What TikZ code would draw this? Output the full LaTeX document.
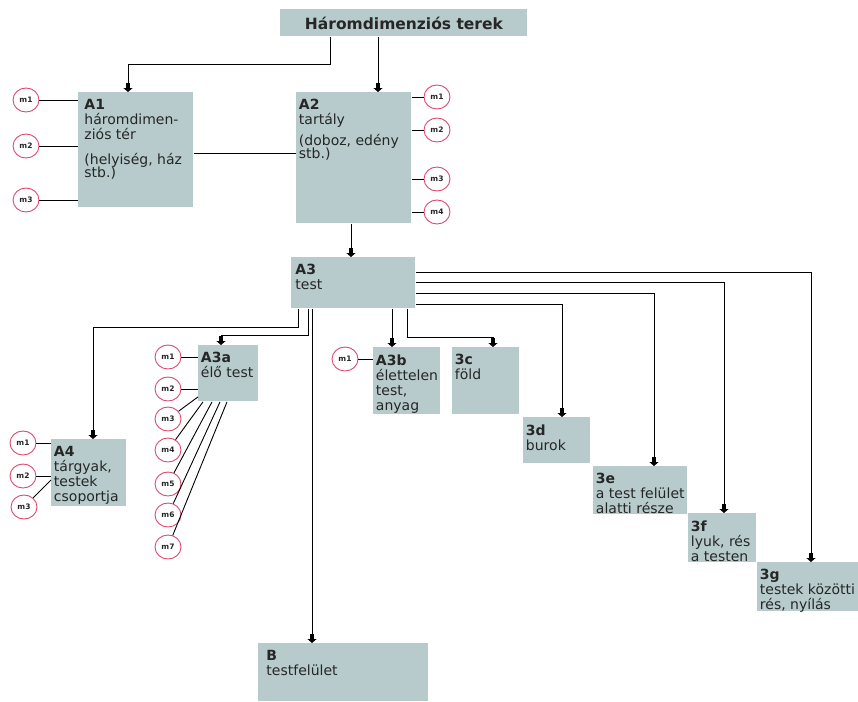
\documentclass[tikz,border=0pt]{standalone}
\usepackage{fontspec}
\setmainfont{DejaVu Sans}
\usepackage{xcolor}
\definecolor{dobozszin}{RGB}{183,203,204}
\definecolor{korszin}{RGB}{221,72,112}
\definecolor{szoveg}{RGB}{38,38,38}
\usetikzlibrary{arrows.meta,calc,shapes.geometric}

\tikzset{
  doboz/.style={fill=dobozszin,anchor=north west,inner sep=0pt},
  cim/.style={fill=dobozszin,anchor=north west,inner sep=0pt,text=szoveg,font=\bfseries\fontsize{15.5}{17}\selectfont},
  felirat/.style={anchor=north west,align=left,inner xsep=2.5pt,inner ysep=7pt,text=szoveg,font=\fontsize{14}{15}\selectfont},
  kor/.style={ellipse,draw=korszin,fill=white,line width=0.9pt,minimum width=26pt,minimum height=24pt,inner sep=0pt,text=szoveg,font=\bfseries\fontsize{7.5}{8}\selectfont},
  nyil/.style={-{Rectangle[width=4.5pt,length=5pt]Triangle[width=9pt,length=4pt]}},
}

\begin{document}
\begin{tikzpicture}[x=1pt,y=-1pt,line width=0.9pt]
  \useasboundingbox (0,0) rectangle (858,701);
  % dobozok
  \node[cim,minimum width=247pt,minimum height=27pt] (cim) at (280,9) {Háromdimenziós terek};
  \node[doboz,minimum width=115pt,minimum height=115pt] (a1) at (78,92) {};
  \node[felirat,inner xsep=6pt] (a1t) at (a1.north west) {\textbf{A1}\\háromdimen-\\ziós tér\\[10pt](helyiség, ház\\[-2pt]stb.)};
  \node[doboz,minimum width=115pt,minimum height=131pt] (a2) at (296,92) {};
  \node[felirat] (a2t) at (a2.north west) {\textbf{A2}\\tartály\\[6pt](doboz, edény\\[-2pt]stb.)};
  \node[doboz,minimum width=124pt,minimum height=51pt] (a3) at (291,257) {};
  \node[felirat,inner xsep=4pt] (a3t) at (a3.north west) {\textbf{A3}\\test};
  \node[doboz,minimum width=60pt,minimum height=56pt] (a3a) at (198,345) {};
  \node[felirat] (a3at) at (a3a.north west) {\textbf{A3a}\\élő test};
  \node[doboz,minimum width=67pt,minimum height=67pt] (a3b) at (373,347) {};
  \node[felirat] (a3bt) at (a3b.north west) {\textbf{A3b}\\élettelen\\test,\\anyag};
  \node[doboz,minimum width=67pt,minimum height=67pt] (c3) at (452,347) {};
  \node[felirat] (c3t) at (c3.north west) {\textbf{3c}\\föld};
  \node[doboz,minimum width=67pt,minimum height=46pt] (d3) at (523,417) {};
  \node[felirat] (d3t) at (d3.north west) {\textbf{3d}\\burok};
  \node[doboz,minimum width=94pt,minimum height=48pt] (e3) at (593,466) {};
  \node[felirat] (e3t) at (e3.north west) {\textbf{3e}\\a test felület\\alatti része};
  \node[doboz,minimum width=68pt,minimum height=49pt] (f3) at (688,513) {};
  \node[felirat] (f3t) at (f3.north west) {\textbf{3f}\\lyuk, rés\\a testen};
  \node[doboz,minimum width=101pt,minimum height=49pt] (g3) at (757,562) {};
  \node[felirat] (g3t) at (g3.north west) {\textbf{3g}\\testek közötti\\rés, nyílás};
  \node[doboz,minimum width=75pt,minimum height=67pt] (a4) at (51,439) {};
  \node[felirat] (a4t) at (a4.north west) {\textbf{A4}\\tárgyak,\\testek\\csoportja};
  \node[doboz,minimum width=170pt,minimum height=58pt] (b) at (258,643) {};
  \node[felirat,inner xsep=8pt] (bt) at (b.north west) {\textbf{B}\\testfelület};
  % m-korok
  \node[kor] (a1m1) at (26,100) {m1};
  \node[kor] (a1m2) at (26,146) {m2};
  \node[kor] (a1m3) at (26,200) {m3};
  \node[kor] (a2m1) at (437,97) {m1};
  \node[kor] (a2m2) at (437,130) {m2};
  \node[kor] (a2m3) at (437,179) {m3};
  \node[kor] (a2m4) at (437,212) {m4};
  \node[kor] (a3am1) at (168,357) {m1};
  \node[kor] (a3am2) at (168,389) {m2};
  \node[kor] (a3am3) at (168,419) {m3};
  \node[kor] (a3am4) at (168,450) {m4};
  \node[kor] (a3am5) at (168,484) {m5};
  \node[kor] (a3am6) at (168,515) {m6};
  \node[kor] (a3am7) at (168,547) {m7};
  \node[kor] (a3bm1) at (345,359) {m1};
  \node[kor] (a4m1) at (23,443) {m1};
  \node[kor] (a4m2) at (23,476) {m2};
  \node[kor] (a4m3) at (24,507) {m3};
  % nyilak
  \draw[nyil] ([xshift=50pt]cim.south west) -- ++(0,28) -| ([xshift=50pt]a1.north west);
  \draw[nyil] ([xshift=98pt]cim.south west) -- ([xshift=82pt]a2.north west);
  \draw[nyil] ([xshift=55pt]a2.south west) -- ([xshift=60pt]a3.north west);
  \draw[nyil] ([xshift=7pt]a3.south west) -- ++(0,19) -| ([xshift=42pt]a4.north west);
  \draw[nyil] ([xshift=17pt]a3.south west) -- ++(0,27) -| ([xshift=23pt]a3a.north west);
  \draw[nyil] ([xshift=21pt]a3.south west) -- ([xshift=54pt]b.north west);
  \draw[nyil] ([xshift=101pt]a3.south west) -- ([xshift=19pt]a3b.north west);
  \draw[nyil] ([xshift=116pt]a3.south west) -- ++(0,29) -| ([xshift=41pt]c3.north west);
  \draw[nyil] ([yshift=4pt]a3.south east) -| ([xshift=39pt]d3.north west);
  \draw[nyil] ([yshift=15pt]a3.south east) -| ([xshift=61pt]e3.north west);
  \draw[nyil] ([yshift=26pt]a3.south east) -| ([xshift=36pt]f3.north west);
  \draw[nyil] ([yshift=36pt]a3.south east) -| ([xshift=54pt]g3.north west);
  % osszekotesek
  \draw ([yshift=-3.5pt]a1.east) -- ([yshift=-3.5pt]a1.east -| a2.west);
  \foreach \m in {1,2,3}{\draw (a1m\m) -- (a1m\m -| a1.west);}
  \foreach \m in {1,...,4}{\draw (a2m\m) -- (a2m\m -| a2.east);}
  \foreach \m in {1,2}{\draw (a3am\m) -- (a3am\m -| a3a.west);}
  \draw (a3am3) -- ([yshift=5pt]a3a.south west);
  \foreach \m/\dx in {4/5,5/14,6/22,7/29}{\draw (a3am\m) -- ([xshift=\dx pt]a3a.south west);}
  \draw (a3bm1) -- (a3bm1 -| a3b.west);
  \foreach \m in {1,2}{\draw (a4m\m) -- (a4m\m -| a4.west);}
  \draw (a4m3) -- ([yshift=-41pt]a4.north west);
\end{tikzpicture}
\end{document}
